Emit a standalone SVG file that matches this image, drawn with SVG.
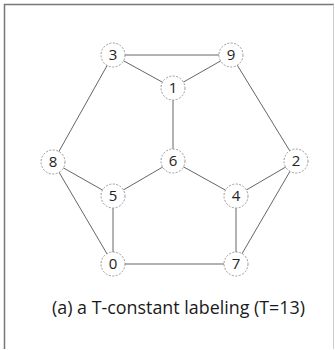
<svg xmlns="http://www.w3.org/2000/svg" width="335" height="350" viewBox="0 0 335 350">
<style>
.n circle{fill:#fff;stroke:#999;stroke-width:1;stroke-dasharray:2 1.5}
.n text{font-family:"Open Sans","Noto Sans",sans-serif;font-size:15px;fill:#222;text-anchor:middle}
.e line{stroke:#666;stroke-width:1}
.cap{font-family:"Open Sans","Noto Sans",sans-serif;font-size:18px;fill:#1a1a1a}
</style>
<rect width="335" height="350" fill="#fff"/>
<path d="M4.5 349V4.5H334" fill="none" stroke="#777" stroke-width="1.5"/>
<path d="M333.5 4.5V349" fill="none" stroke="#ccc" stroke-width="1"/>
<g id="edges" class="e">
<line x1="113" y1="55" x2="231" y2="55"/>
<line x1="113" y1="55" x2="173" y2="88"/>
<line x1="231" y1="55" x2="173" y2="88"/>
<line x1="113" y1="55" x2="53" y2="162"/>
<line x1="231" y1="55" x2="296" y2="161"/>
<line x1="173" y1="88" x2="173" y2="161"/>
<line x1="53" y1="162" x2="113" y2="196"/>
<line x1="53" y1="162" x2="113" y2="264"/>
<line x1="173" y1="161" x2="113" y2="196"/>
<line x1="173" y1="161" x2="236" y2="196"/>
<line x1="296" y1="161" x2="236" y2="196"/>
<line x1="296" y1="161" x2="236" y2="264"/>
<line x1="113" y1="196" x2="113" y2="264"/>
<line x1="236" y1="196" x2="236" y2="264"/>
<line x1="113" y1="264" x2="236" y2="264"/>
</g>
<g id="n3" class="n"><circle cx="113" cy="55" r="12"/><text x="113" y="60">3</text></g>
<g id="n9" class="n"><circle cx="231" cy="55" r="12"/><text x="231" y="60">9</text></g>
<g id="n1" class="n"><circle cx="173" cy="88" r="12"/><text x="173" y="93">1</text></g>
<g id="n8" class="n"><circle cx="53" cy="162" r="12"/><text x="53" y="167">8</text></g>
<g id="n6" class="n"><circle cx="173" cy="161" r="12"/><text x="173" y="166">6</text></g>
<g id="n2" class="n"><circle cx="296" cy="161" r="12"/><text x="296" y="166">2</text></g>
<g id="n5" class="n"><circle cx="113" cy="196" r="12"/><text x="113" y="201">5</text></g>
<g id="n4" class="n"><circle cx="236" cy="196" r="12"/><text x="236" y="201">4</text></g>
<g id="n0" class="n"><circle cx="113" cy="264" r="12"/><text x="113" y="269">0</text></g>
<g id="n7" class="n"><circle cx="236" cy="264" r="12"/><text x="236" y="269">7</text></g>
<text class="cap" x="52" y="314" textLength="253" lengthAdjust="spacingAndGlyphs">(a) a T-constant labeling (T=13)</text>
</svg>
